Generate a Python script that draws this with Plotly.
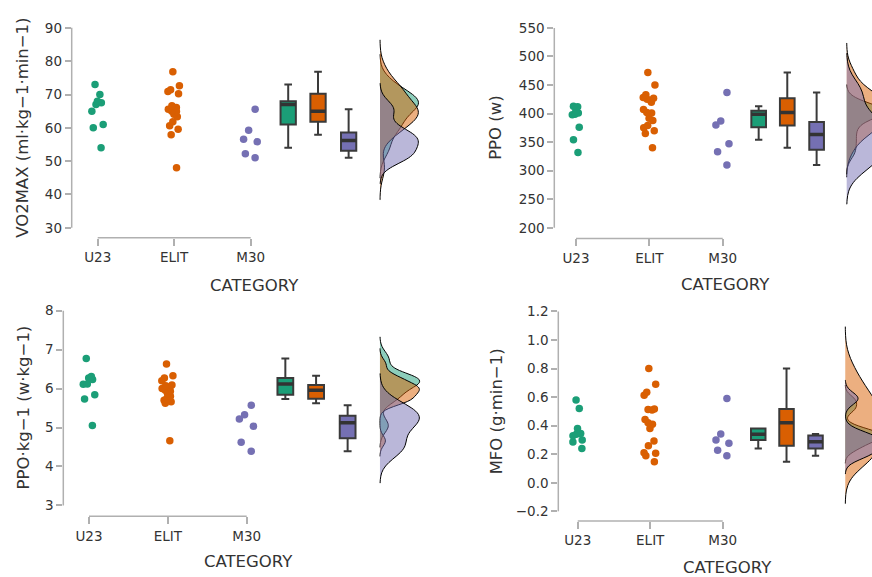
import numpy as np
import plotly.graph_objects as go

# ---------------- data ----------------
categories = ["U23", "ELIT", "M30"]
colors = ["#1B9E77", "#D95F02", "#7570B3"]
fills = ["rgba(27,158,119,0.5)", "rgba(217,95,2,0.5)", "rgba(117,112,179,0.5)"]

vo2_u23 = [73, 70, 68, 67.5, 67, 65, 61, 60, 54]
vo2_elit = [76.8, 72.6, 71.4, 70.9, 70.2, 66.6, 66.1, 65.6, 65.0, 64.9, 64.1, 63.3, 61.8, 60.6, 59.6, 57.9, 48.0]
vo2_m30 = [65.6, 59.3, 56.6, 55.8, 52.2, 51.0]

ppo_u23 = [413, 412, 405, 401, 399, 398, 376, 354, 332]
ppo_elit = [472, 450, 433, 428, 427, 425, 420, 407, 402, 401, 392, 388, 379, 375, 370, 365, 340]
ppo_m30 = [437, 387, 380, 347, 333, 310]

ppokg_u23 = [6.77, 6.31, 6.27, 6.23, 6.12, 6.11, 5.84, 5.73, 5.05]
ppokg_elit = [6.63, 6.33, 6.27, 6.20, 6.09, 6.07, 6.04, 6.00, 5.96, 5.93, 5.87, 5.80, 5.74, 5.70, 5.66, 5.62, 4.66]
ppokg_m30 = [5.57, 5.33, 5.22, 5.03, 4.62, 4.39]

mfo_u23 = [0.58, 0.52, 0.38, 0.345, 0.34, 0.33, 0.30, 0.285, 0.24]
mfo_elit = [0.80, 0.69, 0.633, 0.612, 0.517, 0.513, 0.51, 0.443, 0.42, 0.41, 0.38, 0.292, 0.26, 0.21, 0.207, 0.19, 0.147]
mfo_m30 = [0.59, 0.341, 0.30, 0.276, 0.228, 0.19]

y_titles = ["VO2MAX (ml·kg−1·min−1)", "PPO (w)", "PPO·kg−1 (w·kg−1)", "MFO (g·min−1)"]
x_title = "CATEGORY"
y_ticks = [
    [30, 40, 50, 60, 70, 80, 90],
    [200, 250, 300, 350, 400, 450, 500, 550],
    [3, 4, 5, 6, 7, 8],
    [-0.2, 0.0, 0.2, 0.4, 0.6, 0.8, 1.0, 1.2],
]
panels_data = [
    [vo2_u23, vo2_elit, vo2_m30],
    [ppo_u23, ppo_elit, ppo_m30],
    [ppokg_u23, ppokg_elit, ppokg_m30],
    [mfo_u23, mfo_elit, mfo_m30],
]

# ---------------- layout geometry (pixels) ----------------
W, H = 872, 577
FONT = "DejaVu Sans"
TXT = "#333333"
AX = "#b0b0b0"

geo = [
    dict(xd=(71.7, 435), xr=(0.660, 5.409), yd=(20, 236), yr=(27.01, 91.49),
         ytitle=(23, 125.5), xtitle=(254.5, 283.5)),
    dict(xd=(554.3, 872), xr=(0.704, 5.035), yd=(20, 236.7), yr=(181.37, 558.71),
         ytitle=(496, 125.5), xtitle=(725, 283)),
    dict(xd=(63.3, 435), xr=(0.674, 5.388), yd=(300, 516), yr=(2.719, 8.238),
         ytitle=(23.5, 407), xtitle=(249, 561.7)),
    dict(xd=(558.3, 872), xr=(0.732, 5.059), yd=(300, 520.7), yr=(-0.2676, 1.2697),
         ytitle=(496, 410.5), xtitle=(727.8, 567.2)),
]
box_pos = [3.49, 3.88, 4.28]
dens_pos = 4.69


def nrd0(v):
    v = np.asarray(v, float)
    sd = v.std(ddof=1)
    q1, q3 = np.percentile(v, [25, 75])
    lo = min(sd, (q3 - q1) / 1.34)
    if lo <= 0:
        lo = sd
    return 0.9 * lo * len(v) ** (-0.2)


def box_stats(v):
    v = np.asarray(v, float)
    q1, med, q3 = np.percentile(v, [25, 50, 75])
    iqr = q3 - q1
    lf = v[v >= q1 - 1.5 * iqr].min()
    uf = v[v <= q3 + 1.5 * iqr].max()
    return q1, med, q3, lf, uf


fig = go.Figure()
layout = dict(
    width=W, height=H, autosize=False,
    margin=dict(l=0, r=0, t=0, b=0),
    paper_bgcolor="white", plot_bgcolor="white",
    showlegend=False, boxmode="overlay", violinmode="overlay",
    font=dict(family=FONT, color=TXT, size=14),
)
shapes = []
annotations = []

for p, (data, g) in enumerate(zip(panels_data, geo)):
    sfx = "" if p == 0 else str(p + 1)
    xa, ya = "x" + sfx, "y" + sfx
    # jittered raw points
    for i, (vals, c) in enumerate(zip(data, colors)):
        fig.add_trace(go.Box(
            y=vals, x0=i + 1, width=0.22, boxpoints="all", jitter=1.0, pointpos=0,
            fillcolor="rgba(0,0,0,0)", line=dict(width=0, color="rgba(0,0,0,0)"),
            marker=dict(color=c, size=7.5, line=dict(width=0)),
            hoverinfo="skip", xaxis=xa, yaxis=ya))
    # box plots
    for i, (vals, c) in enumerate(zip(data, colors)):
        q1, med, q3, lf, uf = box_stats(vals)
        fig.add_trace(go.Box(
            x=[box_pos[i]], q1=[q1], median=[med], q3=[q3], lowerfence=[lf], upperfence=[uf],
            width=0.2, whiskerwidth=0.5, fillcolor=c, boxpoints=False,
            line=dict(color="#3a3a3a", width=2),
            hoverinfo="skip", xaxis=xa, yaxis=ya))
        # emphasised median bar (JASP draws it thicker)
        fig.add_trace(go.Scatter(
            x=[box_pos[i] - 0.1, box_pos[i] + 0.1], y=[med, med], mode="lines",
            line=dict(color="#333333", width=3.5), hoverinfo="skip",
            xaxis=xa, yaxis=ya))
    # densities
    for i, (vals, f) in enumerate(zip(data, fills)):
        bw = nrd0(vals)
        fig.add_trace(go.Violin(
            y=vals, x0=dens_pos, side="positive", width=1.0,
            scalegroup="g%d" % p, scalemode="width", bandwidth=bw,
            spanmode="manual", span=[min(vals) - 3 * bw, max(vals) + 3 * bw],
            fillcolor=f, line=dict(color="black", width=1), points=False,
            box_visible=False, meanline_visible=False, hoverinfo="skip",
            xaxis=xa, yaxis=ya))

    xkey = "xaxis" + sfx
    ykey = "yaxis" + sfx
    layout[xkey] = dict(
        domain=[g["xd"][0] / W, g["xd"][1] / W], range=list(g["xr"]), anchor=ya,
        tickmode="array", tickvals=[1, 2, 3], ticktext=categories,
        ticks="outside", ticklen=7, tickwidth=1.5, tickcolor=AX,
        showline=False, showgrid=False, zeroline=False,
        tickfont=dict(size=13.5, color=TXT, family=FONT), fixedrange=True)
    layout[ykey] = dict(
        domain=[1 - g["yd"][1] / H, 1 - g["yd"][0] / H], range=list(g["yr"]), anchor=xa,
        tickmode="array", tickvals=y_ticks[p],
        tickformat=".1f" if p == 3 else None,
        ticks="outside", ticklen=6, tickwidth=1.5, tickcolor=AX,
        showline=False, showgrid=False, zeroline=False,
        tickfont=dict(size=13.5, color=TXT, family=FONT), fixedrange=True)
    # range-frame axis lines
    shapes.append(dict(type="line", xref=xa + " domain", yref=ya, x0=0, x1=0,
                       y0=y_ticks[p][0], y1=y_ticks[p][-1], line=dict(color=AX, width=1.5)))
    shapes.append(dict(type="line", xref=xa, yref=ya + " domain", x0=1, x1=3,
                       y0=0, y1=0, line=dict(color=AX, width=1.5)))
    # titles
    annotations.append(dict(text=y_titles[p], xref="paper", yref="paper",
                            x=g["ytitle"][0] / W, y=1 - g["ytitle"][1] / H,
                            xanchor="center", yanchor="middle", textangle=-90,
                            showarrow=False, font=dict(size=16.5, color=TXT, family=FONT)))
    annotations.append(dict(text=x_title, xref="paper", yref="paper",
                            x=g["xtitle"][0] / W, y=1 - g["xtitle"][1] / H,
                            xanchor="center", yanchor="middle",
                            showarrow=False, font=dict(size=16.5, color=TXT, family=FONT)))

layout["shapes"] = shapes
layout["annotations"] = annotations
fig.update_layout(**layout)

fig.write_html("out.html", config={"displayModeBar": False},
               post_script="document.body.style.margin='0';document.body.style.overflow='hidden';")
